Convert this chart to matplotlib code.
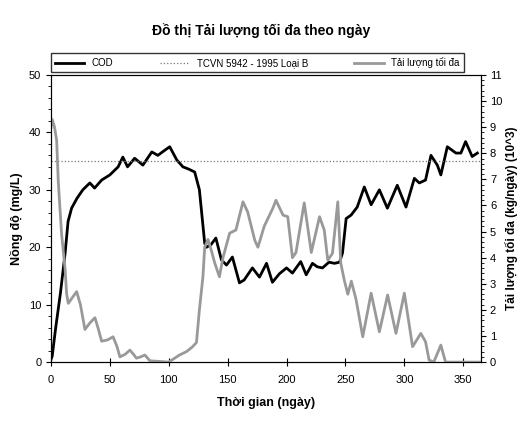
import numpy as np
import matplotlib.pyplot as plt
from matplotlib.ticker import AutoMinorLocator

plt.rcParams['font.family'] = ['Liberation Sans', 'DejaVu Sans']

# COD concentration (mg/L) by day
cod_day = [0, 1, 4, 8, 12, 14.5, 17.5, 22, 27, 33, 37, 43, 50, 57, 61, 65, 71,
           78, 85.6, 90.7, 96, 100.8, 106.8, 112, 117, 122, 126, 130.5, 132,
           136, 140, 144.7, 149, 154, 160, 164, 171, 177, 183, 188, 194, 200,
           205, 212, 216.7, 222, 226, 230.5, 236, 240.7, 245, 247.5, 250.6,
           254.8, 260, 266, 271.8, 278.8, 285.6, 294, 301.4, 308.5, 312.7, 318,
           322.6, 328, 331, 336.5, 343.8, 348, 352, 357.6, 362]
cod = [0.5, 1, 6, 12, 19, 24.5, 26.8, 28.5, 30, 31.2, 30.3, 31.7, 32.6, 34,
       35.7, 34, 35.5, 34.3, 36.6, 36, 36.8, 37.5, 35.2, 34, 33.6, 33.1, 30,
       20.7, 20, 20.5, 21.6, 17.8, 16.9, 18.3, 13.8, 14.3, 16.4, 14.8, 17.2,
       13.9, 15.4, 16.4, 15.5, 17.5, 15.2, 17.2, 16.6, 16.4, 17.4, 17.2, 17.4,
       19, 25, 25.6, 27, 30.5, 27.4, 30, 26.8, 30.8, 27, 32, 31.2, 31.7, 36,
       34.3, 32.6, 37.5, 36.4, 36.4, 38.4, 35.8, 36.4]

# Maximum load (10^3 kg/day) by day
load_day = [0, 1, 3, 4.8, 6.2, 9, 11.9, 13.3, 14.7, 17, 21.8, 25, 28.8, 33,
            37.3, 40, 43, 48, 52.7, 56, 58.5, 63, 67, 70, 72.6, 76, 79.7, 84,
            100, 109, 115, 120, 123.5, 126, 129, 130.5, 133.3, 136, 139, 143,
            146, 151.7, 157, 163, 167, 173, 175.7, 181, 188.4, 191, 197, 201,
            205, 208, 215, 221, 228, 232, 235, 239, 243.5, 246, 249, 252, 255,
            259, 264.7, 271.8, 278.8, 285.8, 292.9, 300, 307, 314, 318, 321,
            325, 331, 335, 365]
load = [9.0, 9.3, 9.0, 8.5, 6.9, 4.9, 3.6, 2.6, 2.25, 2.4, 2.7, 2.2, 1.25,
        1.5, 1.7, 1.3, 0.8, 0.85, 0.97, 0.6, 0.2, 0.3, 0.46, 0.3, 0.15, 0.2,
        0.27, 0.05, 0.0, 0.27, 0.4, 0.58, 0.75, 2.0, 3.27, 4.4, 4.7, 4.3, 3.8,
        3.27, 4.0, 4.94, 5.06, 6.14, 5.75, 4.67, 4.4, 5.2, 5.9, 6.2, 5.63,
        5.57, 4.0, 4.2, 6.1, 4.2, 5.57, 5.06, 3.9, 4.17, 6.14, 3.8, 3.14, 2.6,
        3.1, 2.4, 0.97, 2.64, 1.16, 2.57, 1.1, 2.64, 0.59, 1.1, 0.78, 0.08,
        0.0, 0.65, 0.0, 0.0]

tcvn_limit = 35

fig = plt.figure(figsize=(5.23, 4.26), dpi=100)
ax = fig.add_axes([0.0975, 0.150, 0.822, 0.674])
ax2 = ax.twinx()

l1, = ax.plot(cod_day, cod, color='black', lw=2, label='COD')
l2 = ax.axhline(tcvn_limit, color='#777777', lw=0.9, ls=':',
                label='TCVN 5942 - 1995 Loại B')
l3, = ax2.plot(load_day, load, color='#999999', lw=2,
               label='Tải lượng tối đa')

ax.set_xlim(0, 365)
ax.set_ylim(0, 50)
ax2.set_ylim(0, 11)
ax.set_xticks(np.arange(0, 351, 50))
ax.set_yticks(np.arange(0, 51, 10))
ax2.set_yticks(np.arange(0, 12, 1))
ax.yaxis.set_minor_locator(AutoMinorLocator(5))
ax2.yaxis.set_minor_locator(AutoMinorLocator(5))
ax.tick_params(labelsize=8)
ax.tick_params(axis='x', direction='inout', length=6, pad=6)
ax2.tick_params(labelsize=8, pad=3)

ax.set_xlabel('Thời gian (ngày)', fontsize=9, fontweight='bold', labelpad=9)
ax.set_ylabel('Nồng độ (mg/L)', fontsize=9, fontweight='bold')
ax2.set_ylabel('Tải lượng tối đa (kg/ngày) (10^3)', fontsize=8.5,
               fontweight='bold', rotation=90, labelpad=2)

fig.suptitle('Đồ thị Tải lượng tối đa theo ngày', y=0.945, fontsize=10,
             fontweight='bold')

ax.legend(handles=[l1, l2, l3], loc='lower left', ncol=3, mode='expand',
          bbox_to_anchor=(0, 1.01, 0.96, 0.06), fontsize=7, frameon=True,
          fancybox=False, edgecolor='black', borderaxespad=0, handlelength=3)

fig.savefig('out.png', dpi=100)
